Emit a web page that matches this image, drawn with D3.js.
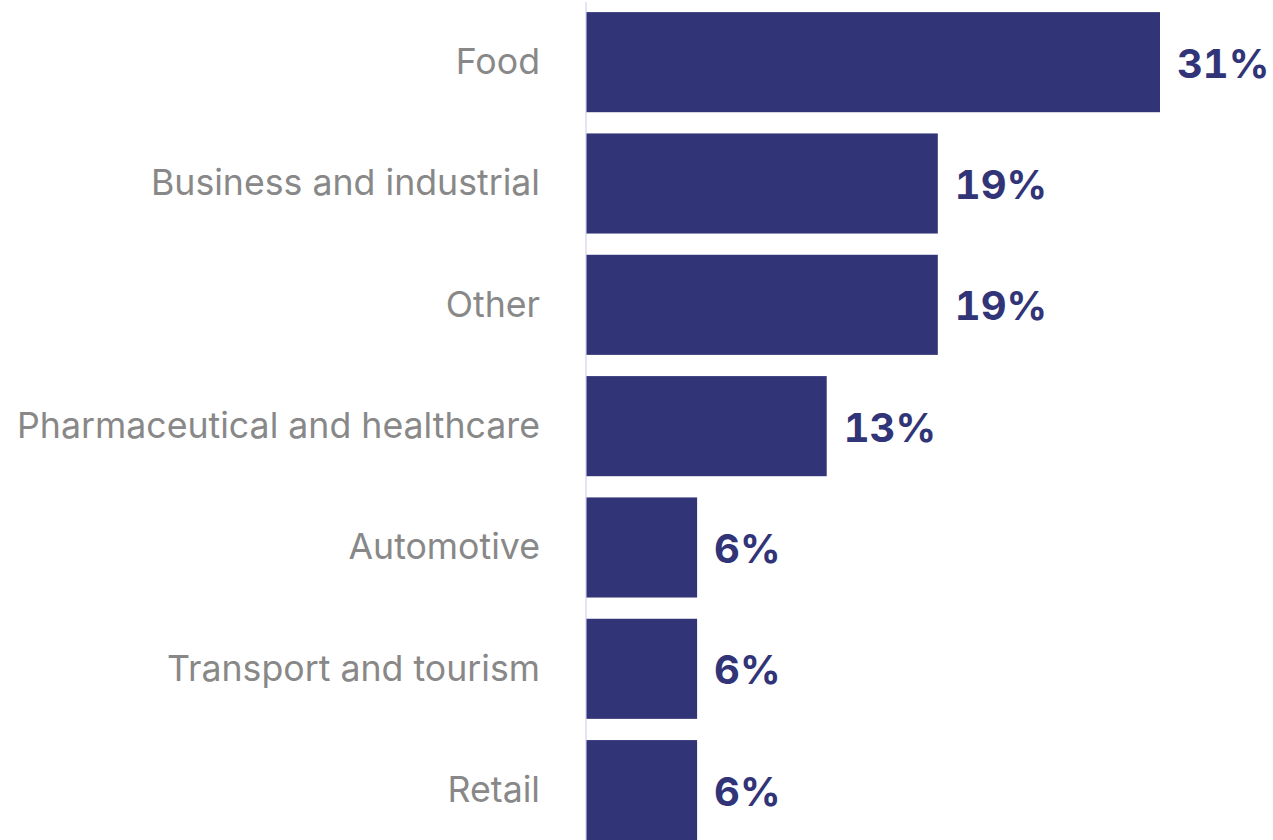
<!DOCTYPE html>
<html>
<head>
<meta charset="utf-8">
<script src="https://cdn.jsdelivr.net/npm/d3@7"></script>
<style>
  html, body { margin: 0; padding: 0; background: #ffffff; }
  svg { display: block; }
  .value { font-variant-numeric: tabular-nums; font-feature-settings: "tnum" 1; }
</style>
</head>
<body>
<svg id="chart" width="1273" height="840"></svg>
<script>
// Share of companies by sector
const categories = [
  "Food",
  "Business and industrial",
  "Other",
  "Pharmaceutical and healthcare",
  "Automotive",
  "Transport and tourism",
  "Retail"
];
const values = [31, 19, 19, 13, 6, 6, 6];
const valueLabels = ["31%", "19%", "19%", "13%", "6%", "6%", "6%"];

const width = 1273, height = 840;
const axisX = 586;

const svg = d3.select("#chart");

const x = d3.scaleLinear()
  .domain([0, 31])
  .range([axisX, 1160]);

const y = d3.scaleBand()
  .domain(categories)
  .range([1.5, 850.8])
  .paddingInner(0.175)
  .paddingOuter(0.0875);

// baseline axis line
svg.append("line")
  .attr("x1", axisX).attr("x2", axisX)
  .attr("y1", 2).attr("y2", height)
  .attr("stroke", "#e6e4f4")
  .attr("stroke-width", 2);

// bars
svg.append("g")
  .selectAll("rect")
  .data(categories)
  .join("rect")
  .attr("x", x(0) + 0.5)
  .attr("y", d => y(d))
  .attr("width", (d, i) => x(values[i]) - x(0) - 0.5)
  .attr("height", y.bandwidth())
  .attr("fill", "#313477");

// category labels
svg.append("g")
  .selectAll("text")
  .data(categories)
  .join("text")
  .attr("x", 540)
  .attr("y", d => y(d) + y.bandwidth() / 2 - 1)
  .attr("dy", "0.36em")
  .attr("text-anchor", "end")
  .attr("font-family", "Inter, Roboto, sans-serif")
  .attr("font-size", 35.7)
  .attr("fill", "#888888")
  .text(d => d);

// value labels
svg.append("g")
  .selectAll("text")
  .data(categories)
  .join("text")
  .attr("class", "value")
  .attr("x", (d, i) => x(values[i]) + 17)
  .attr("y", d => y(d) + y.bandwidth() / 2 + 1)
  .attr("dy", "0.36em")
  .attr("text-anchor", "start")
  .attr("font-family", "Inter, Roboto, sans-serif")
  .attr("font-weight", 700)
  .attr("font-size", 40)
  .attr("fill", "#313477")
  .text((d, i) => valueLabels[i]);
</script>
</body>
</html>
